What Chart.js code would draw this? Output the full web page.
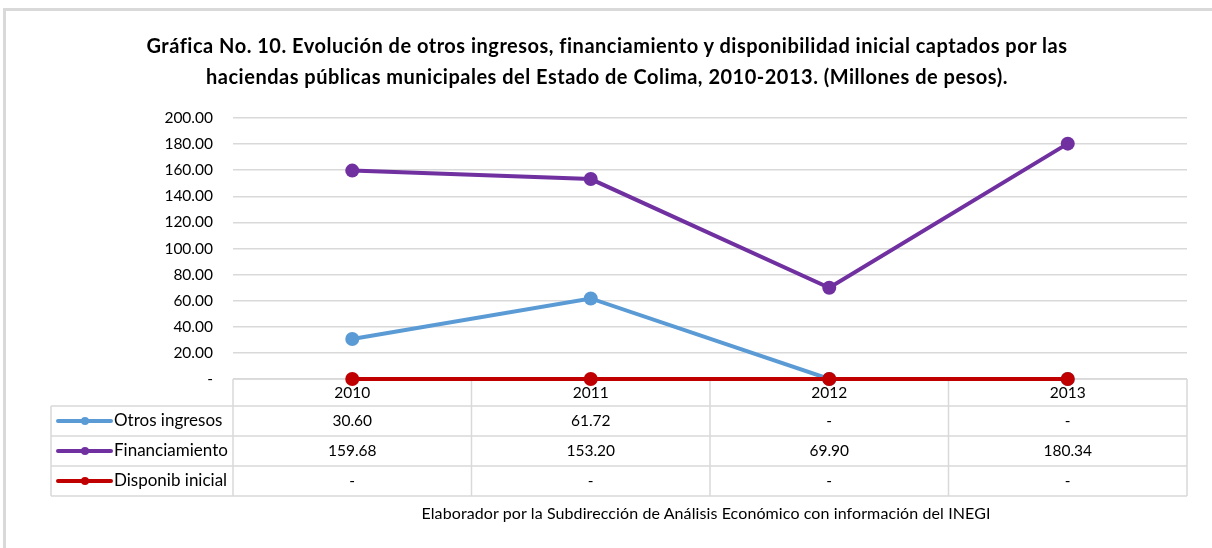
<!DOCTYPE html>
<html><head><meta charset="utf-8">
<script src="https://cdn.jsdelivr.net/npm/chart.js@4.4.1/dist/chart.umd.min.js"></script>
<style>
html,body{margin:0;padding:0;background:#fff;width:1212px;height:548px;overflow:hidden;}
#frame{position:absolute;left:3px;top:8px;width:1220px;height:560px;border-top:3px solid #d9d9d9;border-left:3px solid #d9d9d9;}
#title{position:absolute;left:0;top:30px;width:1214px;text-align:center;font-family:Lato,sans-serif;font-weight:bold;font-size:20px;letter-spacing:0.5px;line-height:31px;color:#000;}
#note{position:absolute;left:350px;top:503px;width:712px;text-align:center;font-family:Lato,sans-serif;font-size:16px;letter-spacing:0.1px;color:#000;}
#wrap{position:absolute;left:0;top:0;width:1212px;height:548px;}
</style></head>
<body>
<div id="frame"></div>
<div id="wrap"><canvas id="c" width="1212" height="548"></canvas></div>
<div id="title">Gráfica No. 10. Evolución de otros ingresos, financiamiento y disponibilidad inicial captados por las<br>haciendas públicas municipales del Estado de Colima, 2010-2013. (Millones de pesos).</div>
<div id="note">Elaborador por la Subdirección de Análisis Económico con información del INEGI</div>
<script>
const years = ['2010', '2011', '2012', '2013'];
const seriesNames = ['Otros ingresos', 'Financiamiento', 'Disponib inicial'];
const otrosIngresos = [30.60, 61.72, 0, 0];
const financiamiento = [159.68, 153.20, 69.90, 180.34];
const disponibInicial = [0, 0, 0, 0];
const seriesColors = ['#5b9bd5', '#7030a0', '#c00000'];
const yTicks = [0, 20, 40, 60, 80, 100, 120, 140, 160, 180, 200];

const seriesValues = [otrosIngresos, financiamiento, disponibInicial];
const fmt = v => v === 0 ? '-' : v.toFixed(2);

const ROW_TOP = 379, ROWS = [406, 436, 466, 496], LEFT_X = 51;

const tablePlugin = {
  id: 'dataTable',
  beforeDatasetsDraw(chart) {
    const ctx = chart.ctx, x = chart.scales.x, ca = chart.chartArea;
    ctx.save();
    ctx.strokeStyle = '#d9d9d9';
    ctx.lineWidth = 1.5;
    ctx.beginPath();
    ctx.moveTo(ca.left, ROW_TOP); ctx.lineTo(ca.right, ROW_TOP);
    ROWS.forEach(y => { ctx.moveTo(LEFT_X, y); ctx.lineTo(ca.right, y); });
    ctx.moveTo(LEFT_X, ROWS[0]); ctx.lineTo(LEFT_X, ROWS[3]);
    const n = years.length;
    for (let i = 0; i <= n; i++) {
      const bx = ca.left + (ca.right - ca.left) * i / n;
      ctx.moveTo(bx, ROW_TOP); ctx.lineTo(bx, ROWS[3]);
    }
    ctx.stroke();
    ctx.textBaseline = 'middle';
    seriesValues.forEach((vals, r) => {
      const cy = (ROWS[r] + ROWS[r + 1]) / 2;
      ctx.strokeStyle = seriesColors[r];
      ctx.lineWidth = 4;
      ctx.lineCap = 'round';
      ctx.beginPath(); ctx.moveTo(58, cy); ctx.lineTo(111, cy); ctx.stroke();
      ctx.fillStyle = seriesColors[r];
      ctx.beginPath(); ctx.arc(85, cy, 4, 0, Math.PI * 2); ctx.fill();
      ctx.fillStyle = '#000';
      ctx.font = '17px Lato, sans-serif';
      ctx.textAlign = 'left';
      ctx.fillText(seriesNames[r], 114, cy);
      ctx.font = '15.5px Lato, sans-serif';
      ctx.textAlign = 'center';
      vals.forEach((v, i) => ctx.fillText(fmt(v), x.getPixelForValue(i), cy));
    });
    ctx.restore();
  }
};

new Chart(document.getElementById('c'), {
  type: 'line',
  data: {
    labels: years,
    datasets: seriesNames.map((name, i) => ({
      label: name,
      data: seriesValues[i],
      borderColor: seriesColors[i],
      backgroundColor: seriesColors[i],
      borderWidth: 4,
      pointRadius: 7,
      pointHoverRadius: 7,
      pointBorderWidth: 0,
      tension: 0,
      clip: false,
      order: 2 - i
    }))
  },
  options: {
    responsive: false,
    animation: false,
    layout: { padding: { left: 0, right: 25, top: 118, bottom: 0 } },
    plugins: { legend: { display: false }, title: { display: false }, tooltip: { enabled: false } },
    scales: {
      x: {
        offset: true,
        grid: { display: false, drawTicks: false },
        border: { display: false },
        ticks: { color: '#000', font: { family: 'Lato', size: 15.5 }, padding: 5 },
        afterFit(s) { s.height = 548 - 379; }
      },
      y: {
        min: 0, max: 200,
        afterBuildTicks(s) { s.ticks = yTicks.map(v => ({ value: v })); },
        grid: { color: '#d9d9d9', lineWidth: 1.5, drawTicks: false },
        border: { display: false },
        ticks: { color: '#000', font: { family: 'Lato', size: 15.5 }, padding: 20, callback: v => fmt(v) },
        afterFit(s) { s.width = 233; }
      }
    }
  },
  plugins: [tablePlugin]
});
</script>
</body></html>
